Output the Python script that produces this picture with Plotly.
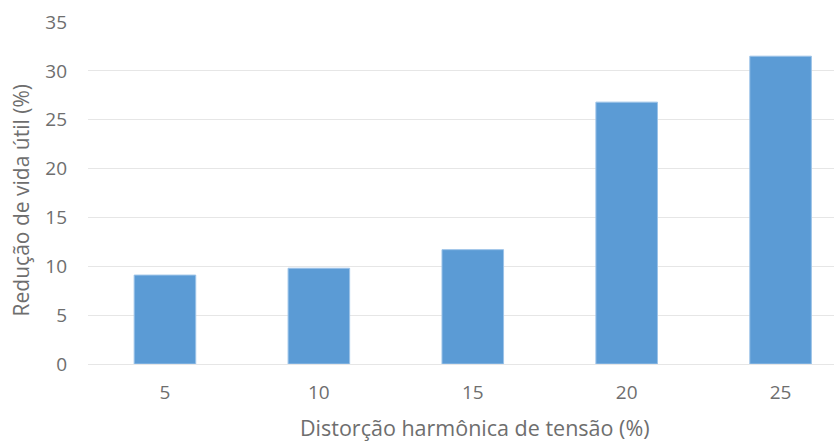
import plotly.graph_objects as go

# Voltage harmonic distortion levels (%) and resulting life reduction (%)
distorcao = ["5", "10", "15", "20", "25"]
reducao_vida = [9.1, 9.8, 11.7, 26.8, 31.5]
y_ticks = [0, 5, 10, 15, 20, 25, 30, 35]

bar_color = "#5B9BD5"
text_color = "#6E6E6E"
grid_color = "#E6E6E6"
font_family = "Open Sans, Lato, sans-serif"

fig = go.Figure(
    go.Bar(
        x=distorcao,
        y=reducao_vida,
        width=0.4,
        marker=dict(color=bar_color, line=dict(color="#9CC3E8", width=1)),
    )
)

fig.update_layout(
    width=834,
    height=441,
    margin=dict(l=88, r=0, t=22, b=77),
    paper_bgcolor="white",
    plot_bgcolor="white",
    showlegend=False,
    font=dict(family=font_family, color=text_color, size=19),
    xaxis=dict(
        type="category",
        range=[-0.5, 4.347],
        showgrid=False,
        showline=True,
        linecolor=grid_color,
        linewidth=1,
        ticks="",
        ticklabelstandoff=11,
        tickfont=dict(size=19, color=text_color),
    ),
    yaxis=dict(
        range=[0, 35],
        tickvals=y_ticks,
        showgrid=True,
        gridcolor=grid_color,
        gridwidth=1,
        zeroline=False,
        showline=False,
        ticks="",
        ticklabelstandoff=20,
        tickfont=dict(size=19, color=text_color),
    ),
    annotations=[
        dict(
            text="Distorção harmônica de tensão (%)",
            xref="paper", yref="paper",
            x=0.519, y=-0.187,
            xanchor="center", yanchor="middle",
            showarrow=False,
            font=dict(size=21.5, color=text_color, family=font_family),
        ),
        dict(
            text="Redução de vida útil (%)",
            xref="paper", yref="paper",
            x=-0.09, y=0.478,
            xanchor="center", yanchor="middle",
            textangle=-90,
            showarrow=False,
            font=dict(size=21, color=text_color, family=font_family),
        ),
    ],
)

fig.write_html("out.html")
